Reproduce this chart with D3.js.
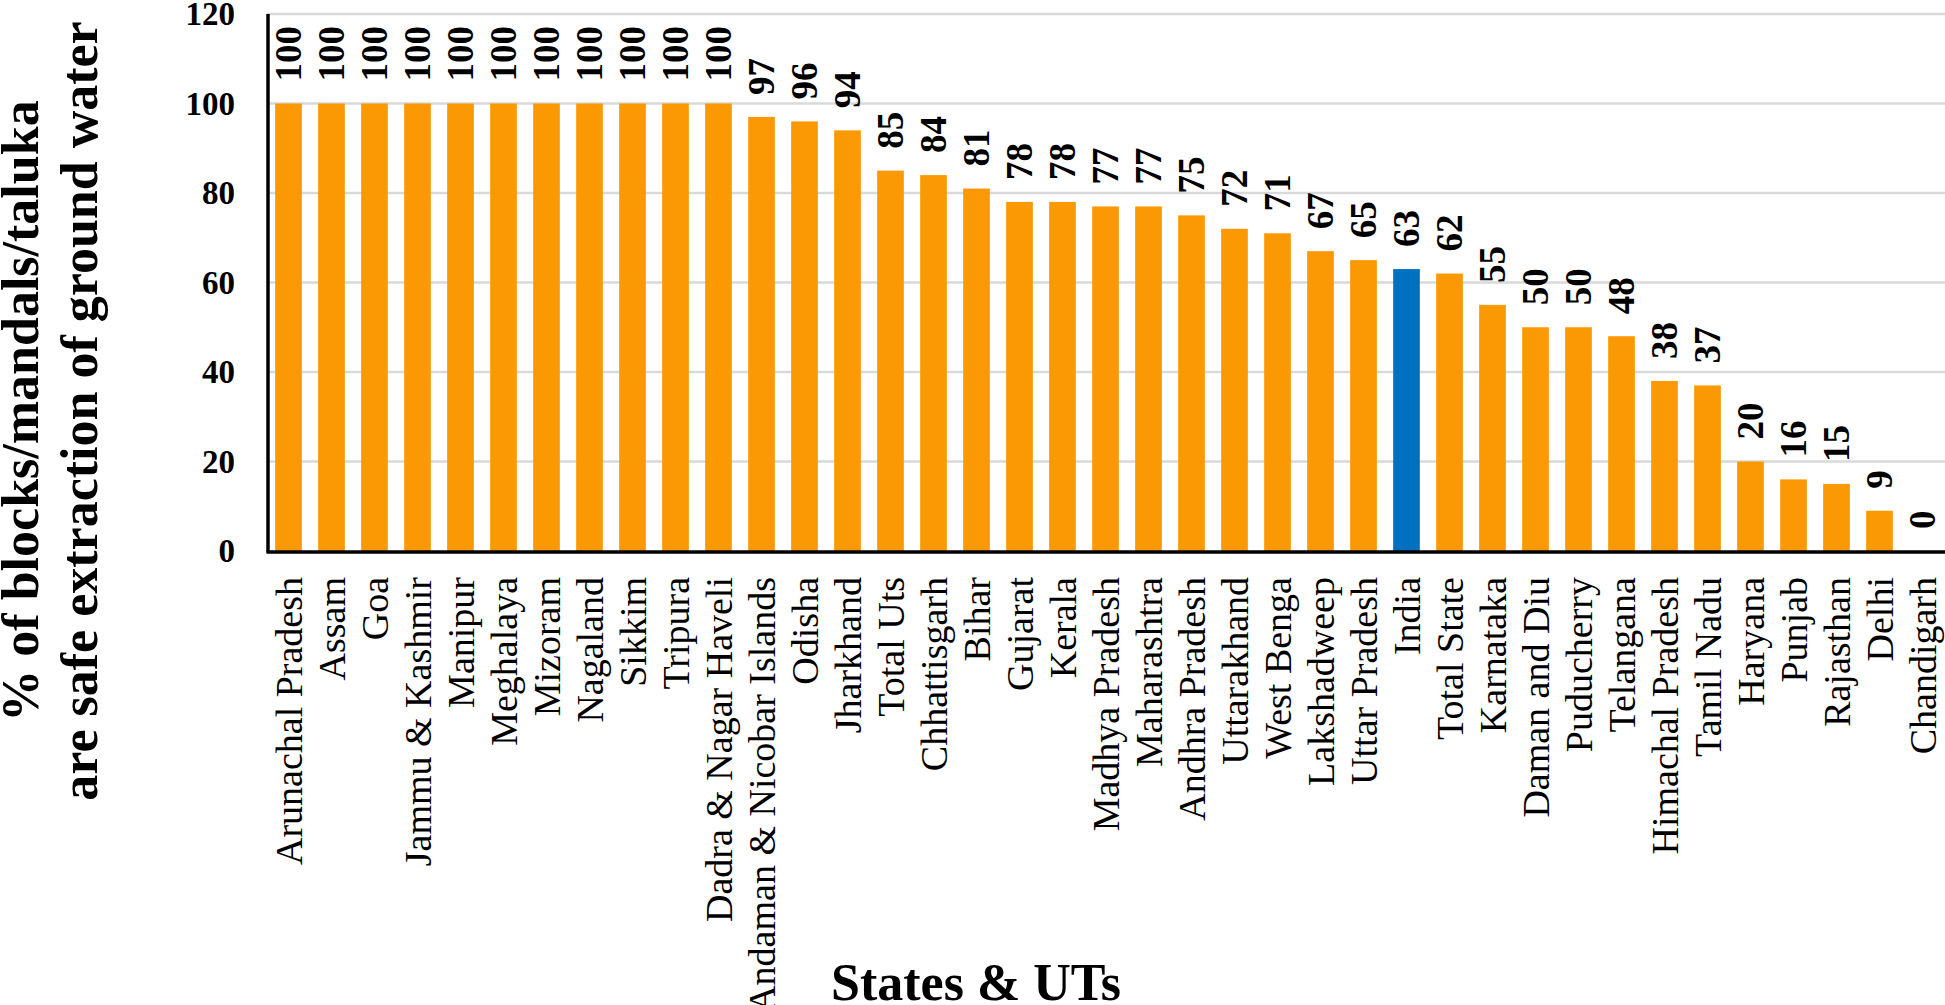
<!DOCTYPE html>
<html>
<head>
<meta charset="utf-8">
<script src="https://cdn.jsdelivr.net/npm/d3@7"></script>
<style>
  html, body { margin: 0; padding: 0; background: #fff; }
  svg { display: block; font-family: "Liberation Serif", "Times New Roman", serif; }
</style>
</head>
<body>
<svg id="chart" width="1945" height="1005"></svg>
<script>
const categories = [
  "Arunachal Pradesh", "Assam", "Goa", "Jammu & Kashmir", "Manipur", "Meghalaya",
  "Mizoram", "Nagaland", "Sikkim", "Tripura", "Dadra & Nagar Haveli",
  "Andaman & Nicobar Islands", "Odisha", "Jharkhand", "Total Uts", "Chhattisgarh",
  "Bihar", "Gujarat", "Kerala", "Madhya Pradesh", "Maharashtra", "Andhra Pradesh",
  "Uttarakhand", "West Benga", "Lakshadweep", "Uttar Pradesh", "India", "Total State",
  "Karnataka", "Daman and Diu", "Puducherry", "Telangana", "Himachal Pradesh",
  "Tamil Nadu", "Haryana", "Punjab", "Rajasthan", "Delhi", "Chandigarh"
];
const values = [
  100, 100, 100, 100, 100, 100, 100, 100, 100, 100, 100,
  97, 96, 94, 85, 84, 81, 78, 78, 77, 77, 75, 72, 71, 67, 65, 63, 62,
  55, 50, 50, 48, 38, 37, 20, 16, 15, 9, 0
];
const highlighted = ["India"];
const yTicks = [0, 20, 40, 60, 80, 100, 120];
const yTitleLines = ["% of blocks/mandals/taluka", "are safe extraction of ground water"];
const xTitle = "States & UTs";

(function () {
const data = categories.map((c, i) => ({ name: c, value: values[i] }));

const svg = d3.select("#chart");
const pLeft = 267, pRight = 1944, pTop = 14, pBottom = 551;
const FONT = "\"Liberation Serif\", \"Times New Roman\", serif";

const x = d3.scaleBand()
  .domain(categories)
  .range([pLeft, pRight])
  .paddingInner(0.38)
  .paddingOuter(0.19);

const y = d3.scaleLinear().domain([0, 120]).range([pBottom, pTop]);

// gridlines
svg.append("g")
  .selectAll("line")
  .data(yTicks.filter(t => t > 0))
  .join("line")
  .attr("x1", pLeft).attr("x2", 1945)
  .attr("y1", d => y(d)).attr("y2", d => y(d))
  .attr("stroke", "#d9d9d9")
  .attr("stroke-width", 2.5);

// bars
svg.append("g")
  .selectAll("rect")
  .data(data)
  .join("rect")
  .attr("x", d => x(d.name))
  .attr("width", x.bandwidth())
  .attr("y", d => y(d.value))
  .attr("height", d => y(0) - y(d.value))
  .attr("fill", d => highlighted.includes(d.name) ? "#0070C0" : "#FB9905");

// value labels
svg.append("g")
  .selectAll("text")
  .data(data)
  .join("text")
  .attr("transform", d => `translate(${x(d.name) + x.bandwidth() / 2},${y(d.value) - 22}) rotate(-90)`)
  .attr("dy", "0.35em")
  .attr("text-anchor", "start")
  .attr("font-weight", "bold")
  .attr("font-size", 37)
  .attr("fill", "#000")
  .text(d => d.value);

// y axis tick labels
const yAxis = svg.append("g")
  .attr("transform", `translate(${pLeft},0)`)
  .call(d3.axisLeft(y).tickValues(yTicks).tickSize(0).tickPadding(32));
yAxis.select(".domain").remove();
yAxis.selectAll("text")
  .attr("font-family", FONT)
  .attr("font-weight", "bold")
  .attr("font-size", 33)
  .attr("fill", "#000");

// x axis category labels
const xAxis = svg.append("g")
  .attr("transform", `translate(0,${pBottom})`)
  .call(d3.axisBottom(x).tickSize(0).tickPadding(0));
xAxis.select(".domain").remove();
xAxis.selectAll("text")
  .attr("font-family", FONT)
  .attr("font-size", 38)
  .attr("fill", "#000")
  .attr("text-anchor", "end")
  .attr("transform", "translate(0,26) rotate(-90)")
  .attr("x", 0)
  .attr("y", 0)
  .attr("dy", "0.35em");

// axis lines
svg.append("line")
  .attr("x1", pLeft + 1).attr("x2", pLeft + 1)
  .attr("y1", pTop).attr("y2", pBottom + 1.5)
  .attr("stroke", "#000").attr("stroke-width", 3.5);
svg.append("line")
  .attr("x1", pLeft - 0.5).attr("x2", 1945)
  .attr("y1", pBottom + 1).attr("y2", pBottom + 1)
  .attr("stroke", "#000").attr("stroke-width", 3.5);

// y title
svg.append("g")
  .selectAll("text")
  .data(yTitleLines)
  .join("text")
  .attr("transform", (d, i) => `translate(${i === 0 ? 38 : 97},411) rotate(-90)`)
  .attr("text-anchor", "middle")
  .attr("font-weight", "bold")
  .attr("font-size", 52)
  .attr("fill", "#000")
  .text(d => d);

// x title
svg.append("text")
  .attr("x", 976)
  .attr("y", 1000)
  .attr("text-anchor", "middle")
  .attr("font-weight", "bold")
  .attr("font-size", 52)
  .attr("fill", "#000")
  .text(xTitle);
})();
</script>
</body>
</html>
